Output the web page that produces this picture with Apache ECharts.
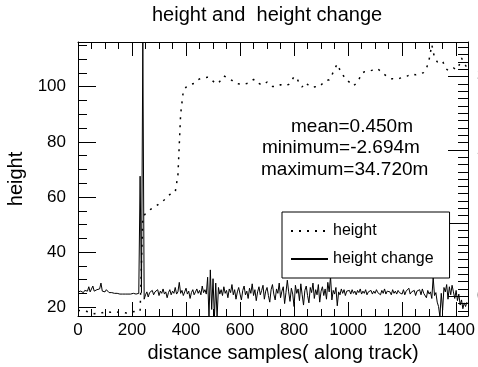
<!DOCTYPE html>
<html>
<head>
<meta charset="utf-8">
<title>height and height change</title>
<script src="https://cdn.jsdelivr.net/npm/echarts@6/dist/echarts.min.js"></script>
<style>
html, body { margin: 0; padding: 0; background: #fff; }
#chart { width: 478px; height: 367px; }
</style>
</head>
<body>
<div id="chart"></div>
<script>
// sample spacing of the two series (distance samples)
var heightStep = 10;
var changeStep = 5;

// height, one value every 10 samples (0 .. 1440)
var heightValues = [
  18.8, 18.9, 18.7, 18.6, 18.3, 17.9, 17.7, 17.9, 18.2, 18.0,
  18.3, 18.4, 18.2, 18.3, 18.4, 18.2, 18.3, 18.1, 17.9, 18.0,
  18.3, 18.5, 18.4, 18.6, 52.7, 54.0, 54.9, 55.6, 56.2, 56.8,
  57.5, 58.2, 59.0, 60.1, 60.9, 61.4, 61.8, 68.0, 90.0, 98.5,
  99.8, 100.5, 100.9, 101.2, 102.3, 102.8, 103.1, 103.3, 103.4, 103.2,
  102.0, 101.1, 101.4, 102.5, 103.9, 103.4, 102.8, 102.3, 101.5, 101.1,
  101.0, 101.2, 101.0, 101.3, 102.0, 102.6, 102.4, 101.2, 100.6, 101.0,
  101.7, 100.9, 100.1, 100.0, 100.5, 100.7, 100.4, 100.6, 100.8, 102.0,
  103.7, 103.2, 101.0, 99.9, 101.4, 100.8, 100.0, 99.8, 100.0, 99.9,
  100.6, 101.7, 102.3, 102.5, 104.2, 106.4, 108.2, 106.0, 104.4, 102.9,
  102.0, 101.2, 100.3, 101.2, 102.6, 104.8, 105.4, 105.6, 105.7, 106.0,
  106.4, 106.5, 105.6, 104.8, 104.0, 103.3, 102.9, 102.8, 102.9, 103.0,
  103.3, 103.6, 103.9, 104.4, 104.6, 104.3, 104.5, 104.8, 105.1, 106.5,
  109.8, 115.2, 110.5, 109.0, 108.8, 109.3, 106.8, 105.9, 106.4, 106.8,
  106.2, 107.5, 110.4, 108.6, 106.9
];

// height change (right axis), one value every 5 samples (0 .. 1440)
var changeValues = [
  0.6, 0.5, 0.7, 0.6, 0.5, 0.8, 0.6, 0.7, 1.3, 0.6, 0.8, 1.4, 0.7, 0.6, 0.9, 0.7, 1.0, 1.8, 0.7, 0.8,
  0.6, 0.9, 0.7, 0.5, 0.4, 0.5, 0.4, 0.4, 0.3, 0.4, 0.3, 0.3, 0.4, 0.3, 0.3, 0.3, 0.4, 0.3, 0.3, 0.3,
  0.3, 0.4, 0.3, 0.3, 0.3, 0.4, 16.4, 0.5, 34.72, -0.4, 0.2, 0.6, -0.1, 0.5, 0.3, 0.8, 0.2, 0.6, 0.4, 0.9,
  0.1, 0.7, 0.4, 1.0, 0.3, 0.6, -0.2, 0.5, 0.9, 0.2, 0.7, 0.4, 1.2, 0.3, 0.6, 1.9, 0.4, 0.8, 0.1, 0.6,
  1.1, 0.3, 0.7, -0.3, 0.5, 0.9, 0.2, 0.6, 1.0, 0.4, 0.8, 0.2, 1.4, 0.5, 0.9, 0.3, 2.6, -2.9, 3.6, -1.8,
  2.4, -3.0, 1.8, -2.9, 1.2, 0.3, 0.9, 0.1, 1.3, 0.4, 0.8, -0.2, 1.0, 0.5, 1.6, 0.2, 0.9, -0.4, 0.6, 1.2,
  0.3, -0.5, 0.8, 1.4, 0.2, 0.7, -0.3, 1.1, 0.4, 1.7, 0.1, 0.9, -0.6, 0.6, 1.3, 0.2, 0.8, 1.5, -0.4, 0.7,
  1.2, 0.1, -0.8, 0.9, 1.6, 0.3, -0.5, 1.0, 0.4, 1.8, -0.2, 0.7, 1.3, -1.0, 0.5, 2.2, 0.6, -0.7, 1.1, 0.3,
  -1.4, 1.5, 0.4, 1.0, -0.6, 1.7, 0.2, -1.2, 0.8, 1.4, 0.1, -0.9, 1.2, 0.5, 1.8, -0.3, 0.9, 0.2, 1.6, -0.8,
  0.7, 1.3, 0.1, 1.0, -0.4, 1.9, 0.6, 2.7, -0.5, 0.8, 0.3, 1.2, -1.3, 0.6, 0.2, 1.0, 0.4, 0.9, 0.1, 0.7,
  0.5, 0.8, 0.3, 0.9, 0.4, 0.7, 0.2, 0.8, 0.5, 1.0, 0.3, 0.7, 0.4, 0.9, 0.2, 0.6, 0.5, 0.8, 0.3, 0.7,
  0.4, 0.9, 0.5, 0.6, 0.2, 0.8, 0.4, 1.0, 0.3, 0.7, 0.5, 0.6, 0.2, 0.9, 0.4, 0.7, 0.3, 0.8, 0.5, 0.6,
  0.3, 0.9, 0.2, 0.7, 0.5, 1.1, 0.3, 0.6, 0.4, 0.8, 0.1, 0.7, 0.5, 0.9, 0.2, 1.0, 0.4, 0.6, -0.2, 0.8,
  0.3, 0.6, -0.3, 2.6, 0.1, 0.5, -0.8, -1.4, -2.8, 0.4, -1.9, 1.2, 0.6, 1.6, -0.4, 1.3, 0.2, 1.5, 0.6, -0.3,
  0.8, -0.6, 0.3, -1.2, -0.5, -1.7, -0.9, -1.4, -0.8
];

// axis ranges and ticks
var xRange = [0, 1444];
var xMajorTicks = [0, 200, 400, 600, 800, 1000, 1200, 1400];
var xMinorTicks = [50, 100, 150, 250, 300, 350, 450, 500, 550, 650, 700, 750, 850, 900, 950,
  1050, 1100, 1150, 1250, 1300, 1350];
var heightRange = [16.85, 116.2];
var heightMajorTicks = [20, 40, 60, 80, 100];
var heightMinorTicks = [25, 30, 35, 45, 50, 55, 65, 70, 75, 85, 90, 95, 105, 110, 115];
var changeRange = [-2.694, 34.72];
var changeMajorTicks = [0, 10, 20, 30];
var changeMinorTicks = [-2, -1, 1, 2, 3, 4, 5, 6, 7, 8, 9, 11, 12, 13, 14, 15, 16, 17, 18, 19,
  21, 22, 23, 24, 25, 26, 27, 28, 29, 31, 32, 33, 34];

var statLines = ['mean=0.450m', 'minimum=-2.694m', 'maximum=34.720m'];

var font = 'Liberation Sans';
var black = '#000';

var heightData = heightValues.map(function(v, i) { return [i * heightStep, v]; });
var changeData = changeValues.map(function(v, i) { return [i * changeStep, v]; });

var plain = function(v) { return String(v); };

// one axis = one set of ticks; the box is drawn by the "major" axes
var makeAxis = function(position, range, ticks, tickLen, withLine, label) {
  return {
    type: 'value',
    position: position,
    min: range[0],
    max: range[1],
    axisLine: { show: withLine, onZero: false, lineStyle: { color: black, width: 1 } },
    axisTick: { show: true, inside: true, length: tickLen, customValues: ticks, lineStyle: { color: black, width: 1 } },
    axisLabel: label ? {
      show: true, customValues: ticks, margin: label.margin, fontSize: 17, color: black,
      fontFamily: font, formatter: plain
    } : { show: false },
    minorTick: { show: false },
    splitLine: { show: false }
  };
};

var bottomAxis = makeAxis('bottom', xRange, xMajorTicks, 14, true, { margin: 6 });
bottomAxis.name = 'distance samples( along track)';
bottomAxis.nameLocation = 'middle';
bottomAxis.nameGap = 26;
bottomAxis.nameTextStyle = { fontSize: 20, color: black, fontFamily: font, padding: [0, 0, 0, 20] };

var leftAxis = makeAxis('left', heightRange, heightMajorTicks, 18, true, { margin: 12 });
leftAxis.name = 'height';
leftAxis.nameLocation = 'middle';
leftAxis.nameGap = 47;
leftAxis.nameTextStyle = { fontSize: 20, color: black, fontFamily: font };

var chart = echarts.init(document.getElementById('chart'), null, { renderer: 'canvas' });

chart.setOption({
  backgroundColor: '#fff',
  animation: false,
  title: {
    text: 'height and  height change',
    left: 152,
    top: 5,
    padding: 0,
    textStyle: { fontSize: 20, fontWeight: 'normal', color: black, fontFamily: font }
  },
  grid: { left: 78, right: 10, top: 42, bottom: 51, containLabel: false, outerBoundsMode: 'none' },
  legend: {
    orient: 'vertical',
    left: 282,
    top: 212,
    padding: [11, 16, 11, 8],
    itemWidth: 37,
    itemHeight: 14,
    itemGap: 12,
    borderColor: black,
    borderWidth: 1,
    borderRadius: 0,
    backgroundColor: '#fff',
    itemStyle: { opacity: 0, color: 'rgba(0,0,0,0)', borderWidth: 0 },
    textStyle: { fontSize: 16, color: black, fontFamily: font },
    data: ['height', 'height change']
  },
  xAxis: [
    bottomAxis,
    makeAxis('bottom', xRange, xMinorTicks, 7, false),
    makeAxis('top', xRange, xMajorTicks, 14, true),
    makeAxis('top', xRange, xMinorTicks, 7, false)
  ],
  yAxis: [
    leftAxis,
    makeAxis('left', heightRange, heightMinorTicks, 9, false),
    makeAxis('right', changeRange, changeMajorTicks, 20, true, { margin: 9 }),
    makeAxis('right', changeRange, changeMinorTicks, 10, false)
  ],
  graphic: [
    { type: 'text', x: 291, y: 127, style: { text: statLines[0], font: '19px "' + font + '"', fill: black, verticalAlign: 'middle' } },
    { type: 'text', x: 262, y: 148, style: { text: statLines[1], font: '19px "' + font + '"', fill: black, verticalAlign: 'middle' } },
    { type: 'text', x: 261, y: 170, style: { text: statLines[2], font: '19px "' + font + '"', fill: black, verticalAlign: 'middle' } }
  ],
  series: [
    {
      name: 'height',
      type: 'line',
      xAxisIndex: 0,
      yAxisIndex: 0,
      symbol: 'none',
      showSymbol: false,
      data: heightData,
      lineStyle: { color: black, width: 1.5, type: [2, 6] },
      itemStyle: { color: black }
    },
    {
      name: 'height change',
      type: 'line',
      xAxisIndex: 0,
      yAxisIndex: 2,
      symbol: 'none',
      showSymbol: false,
      data: changeData,
      lineStyle: { color: black, width: 1 },
      itemStyle: { color: black }
    }
  ]
});
</script>
</body>
</html>
